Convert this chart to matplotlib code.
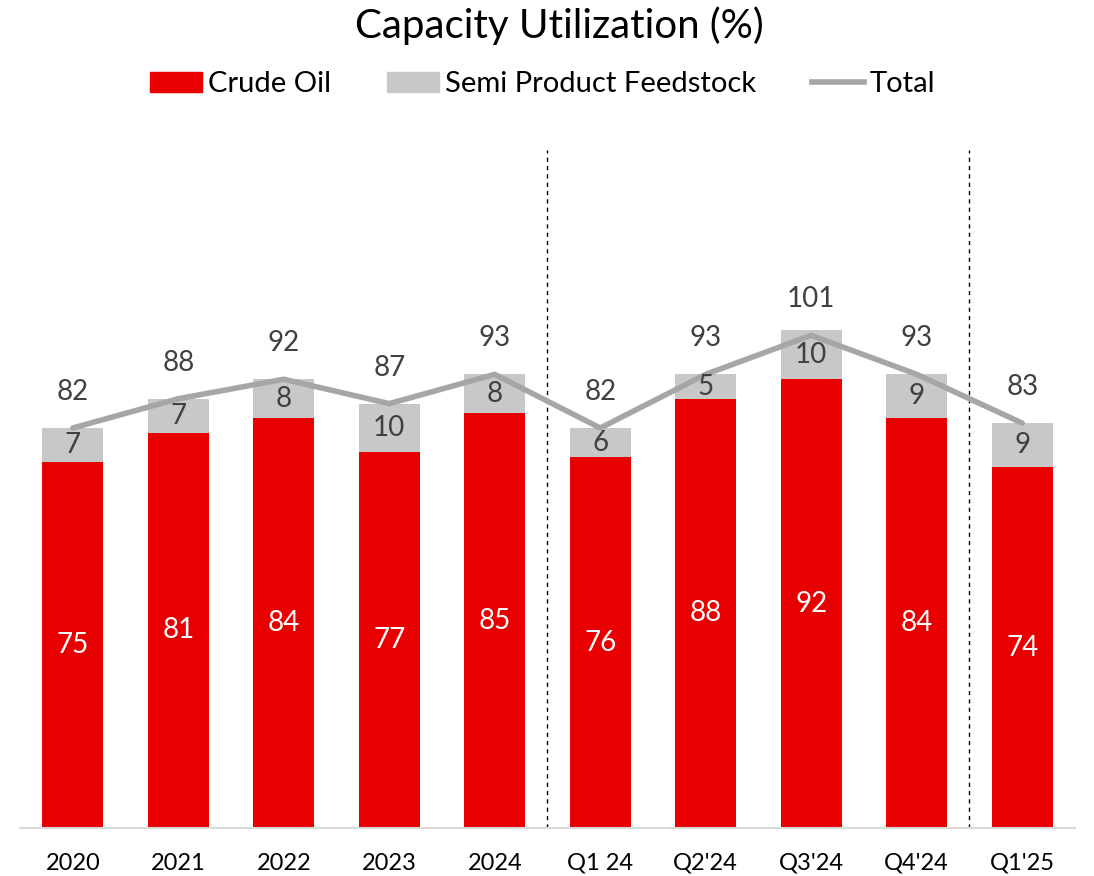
import matplotlib
matplotlib.use("Agg")
import matplotlib.pyplot as plt
from matplotlib.patches import Patch
from matplotlib.lines import Line2D

plt.rcParams["font.family"] = ["Lato", "DejaVu Sans"]

periods = ["2020", "2021", "2022", "2023", "2024", "Q1 24", "Q2'24", "Q3'24", "Q4'24", "Q1'25"]
crude_oil = [75, 81, 84, 77, 85, 76, 88, 92, 84, 74]
semi_product = [7, 7, 8, 10, 8, 6, 5, 10, 9, 9]
total = [82, 88, 92, 87, 93, 82, 93, 101, 93, 83]

RED = "#E80000"
GREY = "#C8C8C8"
LINE = "#A6A6A6"
TXT = "#404040"

fig = plt.figure(figsize=(10.94, 8.76), dpi=100)
ax = fig.add_axes([0.0183, 0.0548, 0.9643, 0.774])

x = list(range(len(periods)))
w = 0.58
ax.bar(x, crude_oil, width=w, color=RED, zorder=2)
ax.bar(x, semi_product, width=w, bottom=crude_oil, color=GREY, zorder=2)
ax.plot(x, total, color=LINE, lw=4, solid_capstyle="round", zorder=3)

for i in x:
    ax.text(i, crude_oil[i] / 2, str(crude_oil[i]), ha="center", va="center",
            color="white", fontsize=20)
    ax.text(i, crude_oil[i] + semi_product[i] / 2, str(semi_product[i]), ha="center",
            va="center", color=TXT, fontsize=20)
    ax.annotate(str(total[i]), (i, total[i]), xytext=(0, 26), textcoords="offset points",
                ha="center", va="center", color=TXT, fontsize=20)

# separators between annual / quarterly / latest
for xs in (4.5, 8.5):
    ax.axvline(xs, ymin=0, ymax=1, color="black", lw=1, ls=(0, (3, 3)), zorder=1)

ax.set_xlim(-0.5, 9.5)
ax.set_ylim(0, 139)
ax.set_xticks(x)
ax.set_xticklabels(periods, fontsize=17)
ax.tick_params(axis="x", length=0, pad=18)
ax.set_yticks([])
for s in ("top", "right", "left"):
    ax.spines[s].set_visible(False)
ax.spines["bottom"].set_color("#D9D9D9")
ax.spines["bottom"].set_linewidth(1.5)

fig.text(0.511, 0.971, "Capacity Utilization (%)", ha="center", va="center", fontsize=29)

handles = [
    Patch(color=RED, label="Crude Oil"),
    Patch(color=GREY, label="Semi Product Feedstock"),
    Line2D([0], [0], color=LINE, lw=4, label="Total"),
]
fig.legend(handles=handles, loc="center", bbox_to_anchor=(0.496, 0.904), ncol=3,
           frameon=False, fontsize=21, handlelength=1.8, handleheight=0.67,
           handletextpad=0.2, columnspacing=1.9)

fig.savefig("out.png", dpi=100)
